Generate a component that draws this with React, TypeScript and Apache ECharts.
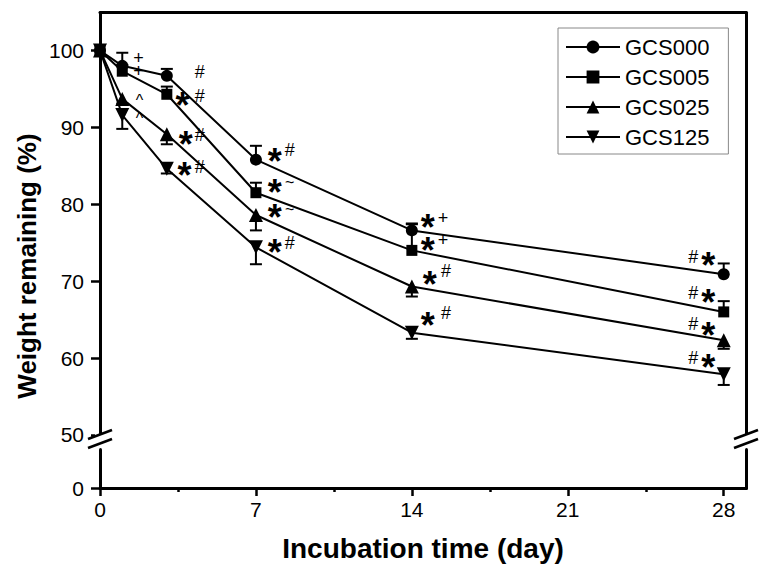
import React, { useEffect, useRef } from 'react';
import * as echarts from 'echarts';

const days = [0, 1, 3, 7, 14, 28];
const seriesNames = ['GCS000', 'GCS005', 'GCS025', 'GCS125'];
const gcs000 = [100, 98.0, 96.7, 85.8, 76.6, 70.9];
const gcs005 = [100, 97.3, 94.3, 81.5, 74.0, 66.0];
const gcs025 = [100, 93.7, 89.1, 78.6, 69.3, 62.3];
const gcs125 = [100, 91.6, 84.6, 74.4, 63.3, 57.9];
const err000 = [0, 1.7, 0.9, 1.8, 0.9, 1.4];
const err005 = [0, 0.8, 1.0, 1.3, 3.4, 1.4];
const err025 = [0, 0.6, 1.3, 2.0, 1.3, 1.1];
const err125 = [0, 1.8, 0.6, 2.2, 0.8, 1.4];
const errDirection = [1, 1, -1, -1];
const xTicks = [0, 7, 14, 21, 28];
const xMinorTicks = [3.5, 10.5, 17.5, 24.5];
const yTicks = [0, 50, 60, 70, 80, 90, 100];
const yBreakStart = 5;
const yBreakEnd = 49.5;
const yBreakGap = 1.4;

// significance marks: [day, value, mark]
const annotations: [number, number, string][] = [
  [1.75, 99.0, '+'], [1.75, 97.3, '+'],
  [1.8, 93.9, '^'], [1.8, 91.6, '^'],
  [4.5, 97.1, '#'],
  [3.73, 93.8, '*'], [4.5, 94.0, '#'],
  [3.87, 88.7, '*'], [4.5, 89.0, '#'],
  [3.82, 84.7, '*'], [4.5, 84.8, '#'],
  [7.87, 86.5, '*'], [8.54, 87.0, '#'],
  [7.87, 82.5, '*'], [8.54, 82.7, '~'],
  [7.87, 79.2, '*'], [8.54, 79.2, '~'],
  [7.87, 74.7, '*'], [8.54, 74.9, '#'],
  [14.74, 77.9, '*'], [15.42, 78.2, '+'],
  [14.74, 74.9, '*'], [15.42, 75.3, '+'],
  [14.83, 70.5, '*'], [15.55, 71.2, '#'],
  [14.74, 65.2, '*'], [15.55, 65.8, '#'],
  [26.65, 73.1, '#'], [27.33, 73.0, '*'],
  [26.65, 68.4, '#'], [27.33, 68.2, '*'],
  [26.65, 64.3, '#'], [27.33, 63.9, '*'],
  [26.65, 60.0, '#'], [27.33, 59.7, '*'],
];

const FONT = "'Liberation Sans', Arial, Helvetica, sans-serif";

const markStyle: Record<string, { fontSize: number; offset: number[]; fontWeight: string; lineHeight: number }> = {
  '*': { fontSize: 36, offset: [0, 8], fontWeight: 'bold', lineHeight: 16 },
  '#': { fontSize: 18, offset: [0, 0], fontWeight: 'normal', lineHeight: 14 },
  '+': { fontSize: 18, offset: [0, 0], fontWeight: 'normal', lineHeight: 14 },
  '~': { fontSize: 16, offset: [0, 0], fontWeight: 'normal', lineHeight: 12 },
  '^': { fontSize: 16, offset: [0, 4], fontWeight: 'normal', lineHeight: 12 },
};

export default function App() {
  const ref = useRef<HTMLDivElement>(null);
  useEffect(() => {
    if (!ref.current) return;
    const chart = echarts.init(ref.current, undefined, { renderer: 'svg' });
    const values = [gcs000, gcs005, gcs025, gcs125];
    const errs = [err000, err005, err025, err125];
    const symbols = ['circle', 'rect', 'triangle', 'triangle'];
    const rotates = [0, 0, 0, 180];
    const sizes = [12, 11, 14, 14];
    const axisLineStyle = { color: '#000', width: 3 };

    const lineSeries = seriesNames.map((name, i) => ({
      name,
      type: 'line',
      data: days.map((d, j) => [d, values[i][j]]),
      symbol: symbols[i],
      symbolRotate: rotates[i],
      symbolSize: sizes[i],
      showAllSymbol: true,
      lineStyle: { color: '#000', width: 2 },
      itemStyle: { color: '#000' },
      z: 4,
    }));

    const errData: number[][] = [];
    seriesNames.forEach((_, i) => {
      days.forEach((d, j) => {
        if (errs[i][j] > 0) errData.push([d, values[i][j], errs[i][j], errDirection[i]]);
      });
    });

    const errSeries = {
      type: 'custom',
      data: errData,
      encode: { x: 0, y: 1 },
      z: 3,
      renderItem: (params: any, api: any) => {
        const x = api.value(0);
        const y = api.value(1);
        const e = api.value(2);
        const dir = api.value(3);
        const p0 = api.coord([x, y]);
        const p1 = api.coord([x, y + dir * e]);
        const hw = 6;
        return {
          type: 'group',
          children: [
            { type: 'line', shape: { x1: p0[0], y1: p0[1], x2: p1[0], y2: p1[1] }, style: { stroke: '#000', lineWidth: 2 } },
            { type: 'line', shape: { x1: p1[0] - hw, y1: p1[1], x2: p1[0] + hw, y2: p1[1] }, style: { stroke: '#000', lineWidth: 2 } },
          ],
        };
      },
    };

    const annSeries = {
      type: 'scatter',
      symbolSize: 1,
      itemStyle: { color: '#fff', opacity: 0 },
      z: 5,
      silent: true,
      data: annotations.map(([d, v, m]) => ({
        value: [d, v],
        name: m,
        label: {
          show: true,
          position: [0, 0],
          align: 'center',
          verticalAlign: 'middle',
          formatter: m,
          fontSize: markStyle[m].fontSize,
          fontWeight: markStyle[m].fontWeight,
          lineHeight: markStyle[m].lineHeight,
          offset: markStyle[m].offset,
          color: '#000',
          opacity: 1,
          textBorderWidth: 0,
          textBorderColor: 'transparent',
          fontFamily: FONT,
        },
      })),
    };

    const breakMark = (cx: number, cy: number) => [
      { type: 'rect', z: 100, shape: { x: cx - 5, y: cy - 6, width: 10, height: 11 }, style: { fill: '#fff' } },
      { type: 'line', z: 101, shape: { x1: cx - 12, y1: cy - 1, x2: cx + 12, y2: cy - 10 }, style: { stroke: '#000', lineWidth: 2.5 } },
      { type: 'line', z: 101, shape: { x1: cx - 12, y1: cy + 8, x2: cx + 12, y2: cy - 1 }, style: { stroke: '#000', lineWidth: 2.5 } },
    ];

    const yBase = {
      type: 'value',
      min: 0,
      max: 105,
      breaks: [{ start: yBreakStart, end: yBreakEnd, gap: yBreakGap }],
      breakArea: { show: false },
      splitLine: { show: false },
    };

    chart.setOption({
      animation: false,
      backgroundColor: '#fff',
      grid: { left: 100, right: 23, top: 12, bottom: 93, containLabel: false },
      legend: {
        orient: 'vertical',
        left: 558,
        top: 28,
        data: seriesNames,
        itemWidth: 54,
        itemHeight: 16,
        itemGap: 8,
        padding: [8, 19, 6, 7],
        borderColor: '#888',
        borderWidth: 1,
        backgroundColor: '#fff',
        textStyle: { fontSize: 22, color: '#000', fontFamily: FONT },
      },
      xAxis: [
        {
          type: 'value', min: 0, max: 29, position: 'bottom',
          axisLine: { show: true, onZero: false, lineStyle: axisLineStyle },
          axisTick: { show: true, length: 8, customValues: xTicks, lineStyle: { color: '#000', width: 2.5 } },
          axisLabel: { customValues: xTicks, fontSize: 21, color: '#000', margin: 11, fontFamily: FONT },
          splitLine: { show: false },
          name: 'Incubation time (day)',
          nameLocation: 'middle',
          nameGap: 46,
          nameTextStyle: { fontSize: 28, fontWeight: 'bold', color: '#000', fontFamily: FONT },
        },
        {
          type: 'value', min: 0, max: 29, position: 'bottom',
          axisLine: { show: false },
          axisTick: { show: true, length: 4, customValues: xMinorTicks, lineStyle: { color: '#000', width: 2.5 } },
          axisLabel: { show: false },
          splitLine: { show: false },
        },
        {
          type: 'value', min: 0, max: 29, position: 'top',
          axisLine: { show: true, onZero: false, lineStyle: axisLineStyle },
          axisTick: { show: false },
          axisLabel: { show: false },
          splitLine: { show: false },
        },
      ],
      yAxis: [
        {
          ...yBase,
          position: 'left',
          axisLine: { show: true, onZero: false, lineStyle: axisLineStyle },
          axisTick: { show: true, length: 9, customValues: yTicks, lineStyle: { color: '#000', width: 2.5 } },
          axisLabel: { customValues: yTicks, fontSize: 21, color: '#000', margin: 16, fontFamily: FONT },
        },
        {
          ...yBase,
          position: 'right',
          axisLine: { show: true, onZero: false, lineStyle: axisLineStyle },
          axisTick: { show: false },
          axisLabel: { show: false },
        },
      ],
      graphic: [
        ...breakMark(100, 440),
        ...breakMark(746, 440),
        {
          type: 'text', x: 27, y: 266, rotation: Math.PI / 2, z: 100,
          style: { text: 'Weight remaining (%)', fontSize: 26, fontWeight: 'bold', fill: '#000', fontFamily: FONT, align: 'center', verticalAlign: 'middle' },
        },
      ],
      series: [errSeries, ...lineSeries, annSeries],
    });
    return () => chart.dispose();
  }, []);
  return <div ref={ref} style={{ position: 'fixed', left: 0, top: 0, width: 769, height: 581 }} />;
}
